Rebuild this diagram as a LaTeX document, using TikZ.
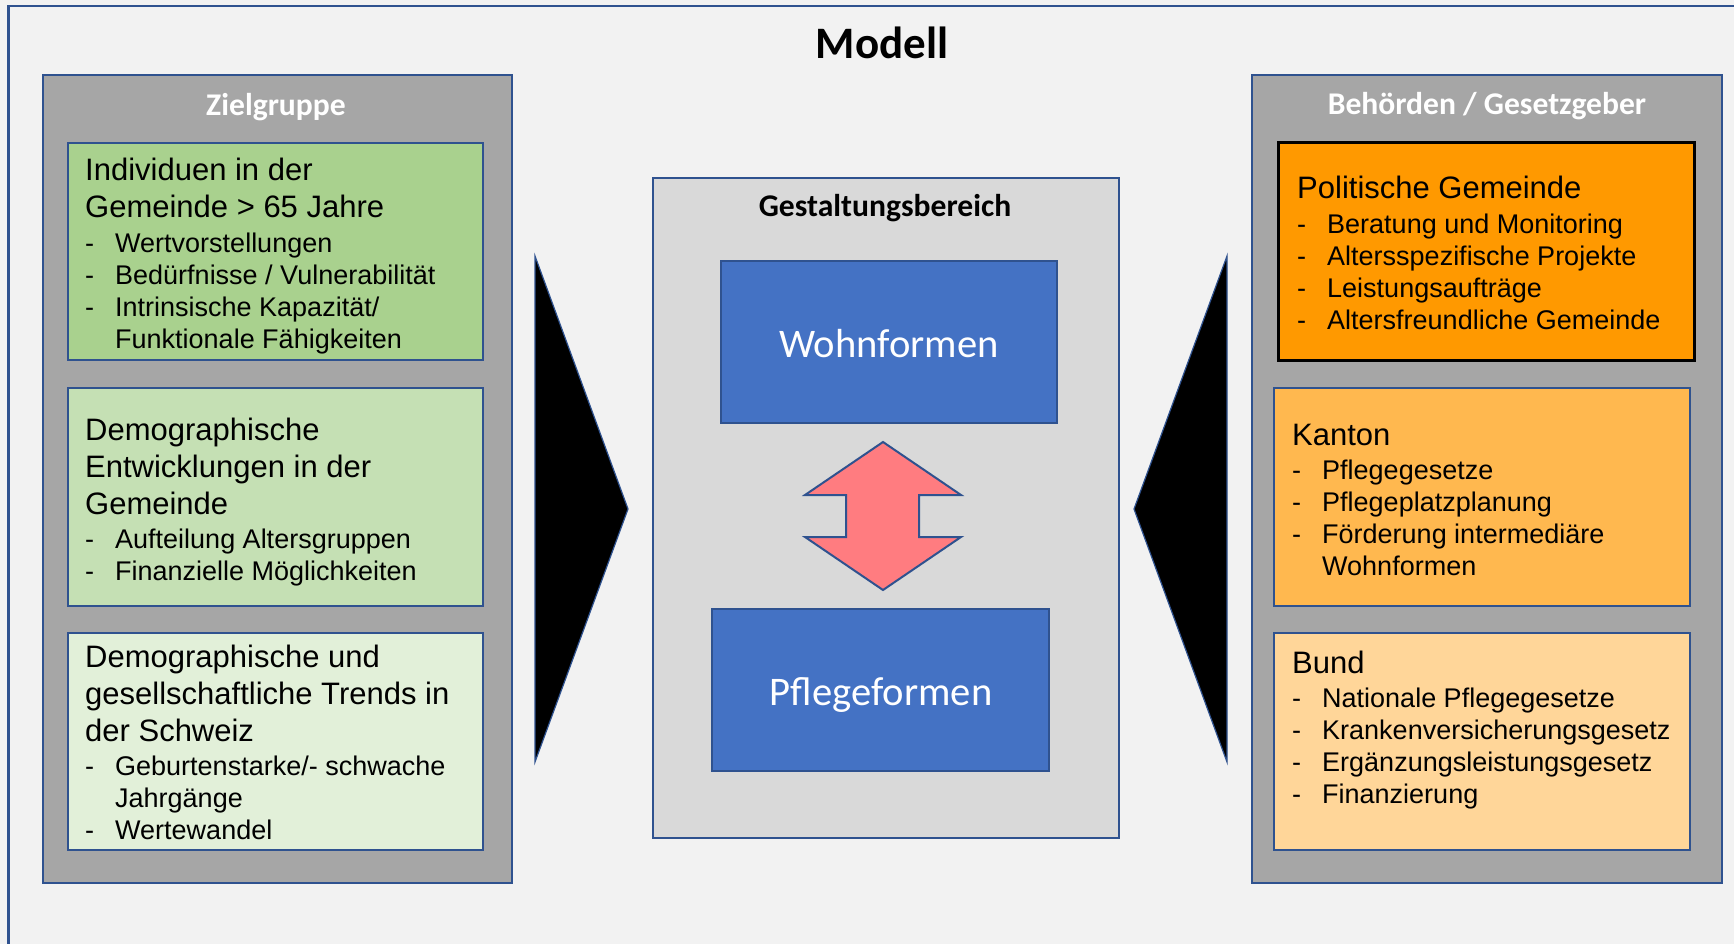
\documentclass[tikz,border=0pt]{standalone}
\usepackage{fontspec}
\setmainfont{Liberation Sans}
\newfontfamily\calibri{Carlito}
\usetikzlibrary{fit}
\setlength{\parskip}{0pt}
\definecolor{framebg}{HTML}{F2F2F2}
\definecolor{blueline}{HTML}{2F528F}
\definecolor{panelgray}{HTML}{A6A6A6}
\definecolor{greenA}{HTML}{A9D18E}
\definecolor{greenB}{HTML}{C5E0B4}
\definecolor{greenC}{HTML}{E2F0D9}
\definecolor{orangeA}{HTML}{FF9900}
\definecolor{orangeB}{HTML}{FFB84F}
\definecolor{orangeC}{HTML}{FFD699}
\definecolor{centergray}{HTML}{D9D9D9}
\definecolor{boxblue}{HTML}{4472C4}
\definecolor{arrowred}{HTML}{FF7C80}
\newcommand{\ttl}[1]{{\fontsize{31}{37}\selectfont\spaceskip=0pt\xspaceskip=0pt #1\par}\vspace{2.5pt}}
\newcommand{\bul}[1]{\par\fontsize{27}{32}\selectfont\spaceskip=0pt\xspaceskip=0pt\noindent\makebox[30pt][l]{-}#1\par}
\newcommand{\bulc}[1]{\par\fontsize{27}{32}\selectfont\spaceskip=0pt\xspaceskip=0pt\noindent\hspace*{30pt}#1\par}
\tikzset{
  rbox/.style={draw=blueline, line width=2pt, inner sep=0pt},
  txt/.style={anchor=base west, inner sep=0pt, text width=420pt, align=left},
  header/.style={font=\calibri\bfseries\fontsize{31.6}{38}\selectfont, inner sep=0pt, anchor=base},
  bigword/.style={font=\calibri\fontsize{40.6}{48}\selectfont, text=white, inner sep=0pt, anchor=base},
  wedge/.style={fill=black, draw=blueline, line width=1.2pt, line join=miter},
}
\begin{document}
\begin{tikzpicture}[x=1pt,y=-1pt]
\useasboundingbox (0,0) rectangle (1734,944);
\fill[framebg] (0,0) rectangle (1734,944);
\draw[blueline, line width=2.5pt] (8.5,950) -- (8.5,6) -- (1740,6);
\node[font=\calibri\bfseries\fontsize{45}{52}\selectfont, inner sep=0pt, anchor=base] (modell) at (882,59) {Modell};

% left panel
\node[rbox, fit={(43,75) (512,883)}, fill=panelgray] (left) {};
\node[header, text=white] (zg) at (276,116) {Zielgruppe};
\node[rbox, fit={(68,143) (483,360)}, fill=greenA] (g1) {};
\node[rbox, fit={(68,388) (483,606)}, fill=greenB] (g2) {};
\node[rbox, fit={(68,633) (483,850)}, fill=greenC] (g3) {};
\node[txt] (g1t) at (85,181) {\ttl{Individuen in der\\Gemeinde > 65 Jahre}\bul{Wertvorstellungen}\bul{Bedürfnisse / Vulnerabilität}\bul{Intrinsische Kapazität/}\bulc{Funktionale Fähigkeiten}};
\node[txt] (g2t) at (85,440) {\ttl{Demographische\\Entwicklungen in der\\Gemeinde}\bul{Aufteilung Altersgruppen}\bul{Finanzielle Möglichkeiten}};
\node[txt] (g3t) at (85,667) {\ttl{Demographische und\\gesellschaftliche Trends in\\der Schweiz}\bul{Geburtenstarke/- schwache}\bulc{Jahrgänge}\bul{Wertewandel}};

% right panel
\node[rbox, fit={(1252,75) (1722,883)}, fill=panelgray] (right) {};
\node[header, text=white] (bg) at (1487,115) {Behörden / Gesetzgeber};
\node[draw=black, line width=3pt, inner sep=0pt, fit={(1278,143) (1694,360)}, fill=orangeA] (o1) {};
\node[rbox, fit={(1274,388) (1690,606)}, fill=orangeB] (o2) {};
\node[rbox, fit={(1274,633) (1690,850)}, fill=orangeC] (o3) {};
\node[txt] (o1t) at (1297,199) {\ttl{Politische Gemeinde}\bul{Beratung und Monitoring}\bul{Altersspezifische Projekte}\bul{Leistungsaufträge}\bul{Altersfreundliche Gemeinde}};
\node[txt] (o2t) at (1292,445) {\ttl{Kanton}\bul{Pflegegesetze}\bul{Pflegeplatzplanung}\bul{Förderung intermediäre}\bulc{Wohnformen}};
\node[txt] (o3t) at (1292,673) {\ttl{Bund}\bul{Nationale Pflegegesetze}\bul{Krankenversicherungsgesetz}\bul{Ergänzungsleistungsgesetz}\bul{Finanzierung}};

% center
\node[rbox, fit={(653,178) (1119,838)}, fill=centergray] (center) {};
\node[header, text=black] (gb) at (885,216) {Gestaltungsbereich};
\node[rbox, fit={(721,261) (1057,423)}, fill=boxblue] (wohn) {};
\node[bigword] (wohnt) at (889,357) {Wohnformen};
\node[rbox, fit={(712,609) (1049,771)}, fill=boxblue] (pflege) {};
\node[bigword] (pfleget) at (881,705) {Pflegeformen};
\draw[fill=arrowred, draw=blueline, line width=2pt, line join=miter]
  (883,442) -- (961,495) -- (919,495) -- (919,537) -- (961,537) -- (883,590)
  -- (805,537) -- (846,537) -- (846,495) -- (805,495) -- cycle;

% wedges
\draw[wedge] (535,256) -- (628,509) -- (535,762) -- cycle;
\draw[wedge] (1227,256) -- (1134,509) -- (1227,762) -- cycle;
\end{tikzpicture}
\end{document}
